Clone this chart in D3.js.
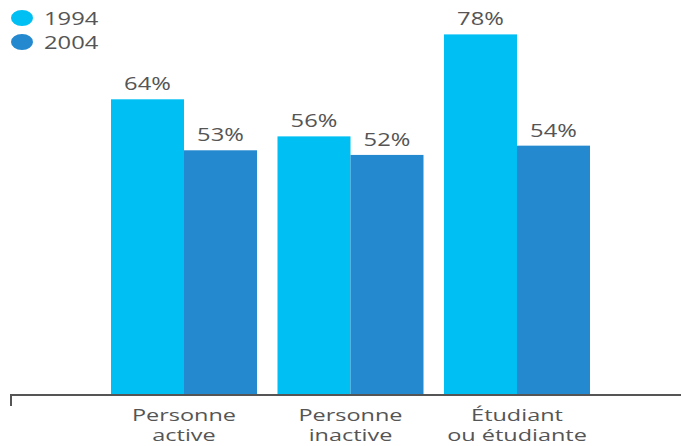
<!DOCTYPE html>
<html>
<head>
<meta charset="utf-8">
<script src="https://cdn.jsdelivr.net/npm/d3@7"></script>
<style>
  body { margin: 0; background: #fff; }
  text { font-family: "Open Sans", sans-serif; fill: #555; }
</style>
</head>
<body>
<script>
"use strict";

const width = 681;
const height = 446;

// data
const categories = [["Personne", "active"], ["Personne", "inactive"], ["Étudiant", "ou étudiante"]];
const years = ["1994", "2004"];
const values1994 = [64, 56, 78];
const values2004 = [53, 52, 54];
const colors = ["#00bff3", "#2589d0"];

const stretch = 1.32; // text in the picture is drawn wide

const baseY = 396;

let svg = d3.select("body").append("svg")
    .attr("width", width)
    .attr("height", height);

let x0 = d3.scaleBand()
    .domain(d3.range(categories.length))
    .range([111, 590])
    .paddingInner(0.123)
    .paddingOuter(0);

let x1 = d3.scaleBand()
    .domain(years)
    .range([0, x0.bandwidth()]);

let y = d3.scaleLinear()
    .domain([0, 100])
    .range([baseY, baseY - 463.6]);

let rows = categories.map((c, i) => ({ i: i, vals: [values1994[i], values2004[i]] }));

let groups = svg.selectAll("g.grp")
    .data(rows)
    .enter()
    .append("g")
    .attr("class", "grp")
    .attr("transform", d => "translate(" + x0(d.i) + ",0)");

groups.selectAll("rect")
    .data(d => d.vals.map((v, k) => ({ year: years[k], v: v, k: k })))
    .enter()
    .append("rect")
    .attr("x", d => x1(d.year))
    .attr("y", d => y(d.v))
    .attr("width", x1.bandwidth())
    .attr("height", d => baseY - y(d.v))
    .style("fill", d => colors[d.k]);

groups.selectAll("text.val")
    .data(d => d.vals.map((v, k) => ({ year: years[k], v: v })))
    .enter()
    .append("text")
    .attr("class", "val")
    .attr("transform", d => "translate(" + (x1(d.year) + x1.bandwidth() / 2) + "," + (y(d.v) - 9) + ") scale(" + stretch + ",1)")
    .attr("text-anchor", "middle")
    .style("font-size", "18px")
    .text(d => d.v + "%");

// axis line
svg.append("path")
    .attr("d", "M11,406V395H681")
    .style("fill", "none")
    .style("stroke", "#555")
    .style("stroke-width", 2);

// category labels, two lines in one text
groups.append("text")
    .attr("transform", "translate(" + (x0.bandwidth() / 2) + ",421) scale(1.38,1)")
    .attr("text-anchor", "middle")
    .style("font-size", "17px")
    .each(function(d) {
        let t = d3.select(this);
        categories[d.i].forEach((line, j) => {
            t.append("tspan")
                .attr("x", 0)
                .attr("dy", j === 0 ? 0 : 20.5)
                .text(line);
        });
    });

// legend
let legend = svg.selectAll("g.leg")
    .data(years)
    .enter()
    .append("g")
    .attr("class", "leg")
    .attr("transform", (d, i) => "translate(22," + (18 + i * 24) + ")");

legend.append("ellipse")
    .attr("rx", 11)
    .attr("ry", 8)
    .style("fill", (d, i) => colors[i]);

legend.append("text")
    .attr("transform", "translate(22,7) scale(" + stretch + ",1)")
    .style("font-size", "18px")
    .text(d => d);
</script>
</body>
</html>
